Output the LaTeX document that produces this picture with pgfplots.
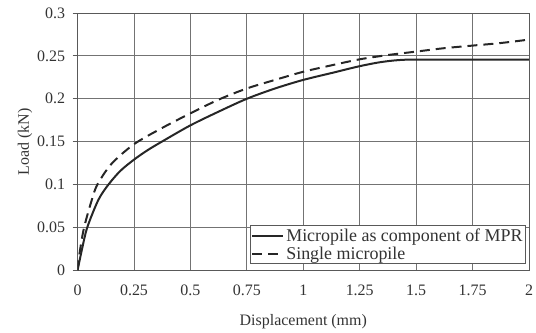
\documentclass[border=0pt]{standalone}
\usepackage{pgfplots}
\pgfplotsset{compat=1.18}
\usepackage{fontspec}
\setmainfont{Liberation Serif}
\begin{document}
\begin{tikzpicture}
\begin{axis}[
  name=ax,
  scale only axis,
  width=451bp, height=257bp,
  xmin=0, xmax=2, ymin=0, ymax=0.3,
  xtick={0,0.25,0.5,0.75,1,1.25,1.5,1.75,2},
  xticklabels={0,0.25,0.5,0.75,1,1.25,1.5,1.75,2},
  ytick={0,0.05,0.1,0.15,0.2,0.25,0.3},
  yticklabels={0,0.05,0.1,0.15,0.2,0.25,0.3},
  grid=major,
  major grid style={draw=black!55, line width=0.8pt},
  axis line style={draw=black!65, line width=0.9pt},
  xtick style={draw=none},
  ytick style={draw=black!65, line width=0.8pt},
  tick pos=left,
  tick align=outside,
  major tick length=5bp,
  ticklabel style={font=\fontsize{16}{18}\selectfont, text=black!80},
  xticklabel style={yshift=-6bp},
  yticklabel style={xshift=-4bp},
  xlabel={Displacement (mm)},
  ylabel={Load (kN)},
  label style={font=\fontsize{16}{18}\selectfont, text=black!80},
  xlabel style={yshift=-12bp},
  ylabel style={yshift=-2bp},
  legend style={at={(1,0)}, anchor=south east, xshift=-3bp, yshift=6bp, draw=black!65, line width=0.8pt,
    font=\fontsize{18}{20}\selectfont, text=black!80, inner sep=1pt, row sep=0bp},
  legend cell align=left,
  legend image code/.code={\draw[#1] (0cm,0cm) -- (31bp,0cm);},
]
\addplot[black!85, line width=2pt, smooth] coordinates {
(0,0) (0.02,0.025) (0.043,0.05) (0.092,0.082) (0.137,0.1) (0.19,0.116) (0.25,0.129) (0.31,0.14) (0.38,0.151) (0.5,0.169) (0.625,0.185) (0.75,0.2) (0.875,0.212) (1.0,0.222) (1.125,0.23) (1.25,0.238) (1.35,0.243) (1.45,0.2455) (1.6,0.2455) (1.8,0.2455) (2,0.2455)
};
\addlegendentry{Micropile as component of MPR}
\addplot[black!85, line width=2pt, dash pattern=on 10pt off 6pt, smooth] coordinates {
(0,0) (0.01,0.022) (0.029,0.05) (0.063,0.082) (0.088,0.1) (0.15,0.124) (0.25,0.147) (0.375,0.166) (0.5,0.183) (0.625,0.199) (0.75,0.212) (0.875,0.222) (1.0,0.2315) (1.125,0.239) (1.25,0.246) (1.375,0.251) (1.5,0.255) (1.625,0.259) (1.75,0.262) (1.875,0.265) (2,0.269)
};
\addlegendentry{Single micropile}
\end{axis}
\pgfresetboundingbox
\path[use as bounding box] ([shift={(-77.5bp,-62bp)}]ax.south west) rectangle ([shift={(7bp,13bp)}]ax.north east);
\end{tikzpicture}
\end{document}
